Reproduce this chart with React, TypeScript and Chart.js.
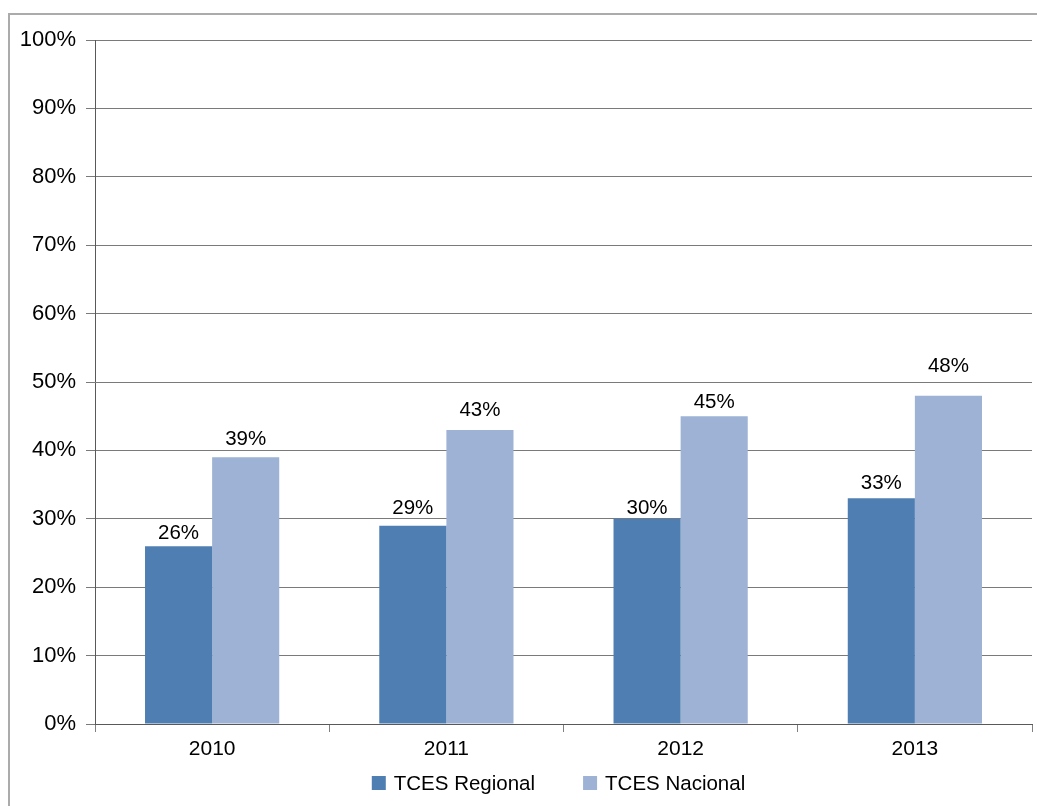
import React, { useEffect, useRef } from "react";
import { Chart, registerables } from "chart.js";

Chart.register(...registerables);

const categories = ["2010", "2011", "2012", "2013"];
const regional = [26, 29, 30, 33];
const nacional = [39, 43, 45, 48];
const seriesNames = ["TCES Regional", "TCES Nacional"];
const seriesColors = ["#4f7fb2", "#9db2d4"];
const yMin = 0;
const yMax = 100;
const yStep = 10;

// label placement (pixels between label baseline and bar top), per series
const labelGaps = [
  [7, 12, 5, 9],
  [12, 14, 8, 24],
];

const FONT = "'Liberation Sans', Arial, sans-serif";

const frame = {
  id: "frame",
  beforeDraw(chart: any) {
    const ctx = chart.ctx;
    ctx.save();
    ctx.fillStyle = "#ffffff";
    ctx.fillRect(0, 0, chart.width, chart.height);
    ctx.fillStyle = "#ababab";
    ctx.fillRect(8, 13, chart.width - 8, 2);
    ctx.fillRect(8, 13, 2, chart.height - 13);
    ctx.restore();
  },
};

const dataLabels = {
  id: "dataLabels",
  afterDatasetsDraw(chart: any) {
    const ctx = chart.ctx;
    ctx.save();
    ctx.font = `20.5px ${FONT}`;
    ctx.fillStyle = "#000000";
    ctx.textAlign = "center";
    ctx.textBaseline = "alphabetic";
    chart.data.datasets.forEach((ds: any, i: number) => {
      const meta = chart.getDatasetMeta(i);
      meta.data.forEach((el: any, j: number) => {
        const gap = (labelGaps[i] && labelGaps[i][j]) ?? 10;
        ctx.fillText(`${ds.data[j]}%`, el.x, el.y - gap);
      });
    });
    ctx.restore();
  },
};

const customLegend = {
  id: "customLegend",
  afterDraw(chart: any) {
    const ctx = chart.ctx;
    const area = chart.chartArea;
    ctx.save();
    ctx.font = `20.5px ${FONT}`;
    const box = 14;
    const gapText = 8;
    const gapItem = 48;
    const widths = chart.data.datasets.map((ds: any) => ctx.measureText(ds.label).width);
    let total = 0;
    widths.forEach((w: number, i: number) => {
      total += box + gapText + w + (i < widths.length - 1 ? gapItem : 0);
    });
    let x = (area.left + area.right) / 2 - 5 - total / 2;
    const cy = area.bottom + 59;
    chart.data.datasets.forEach((ds: any, i: number) => {
      ctx.fillStyle = ds.backgroundColor;
      ctx.fillRect(x, cy - box / 2, box, box);
      ctx.fillStyle = "#000000";
      ctx.textAlign = "left";
      ctx.textBaseline = "middle";
      ctx.fillText(ds.label, x + box + gapText, cy + 1);
      x += box + gapText + widths[i] + gapItem;
    });
    ctx.restore();
  },
};

export default function App() {
  const ref = useRef<HTMLCanvasElement | null>(null);

  useEffect(() => {
    if (!ref.current) return;
    const chart = new Chart(ref.current, {
      type: "bar",
      data: {
        labels: categories,
        datasets: [
          {
            label: seriesNames[0],
            data: regional,
            backgroundColor: seriesColors[0],
            categoryPercentage: 0.573,
            barPercentage: 1,
          },
          {
            label: seriesNames[1],
            data: nacional,
            backgroundColor: seriesColors[1],
            categoryPercentage: 0.573,
            barPercentage: 1,
          },
        ],
      },
      options: {
        animation: false,
        responsive: false,
        devicePixelRatio: 1,
        layout: { padding: { left: 0, top: 40, right: 5, bottom: 42 } },
        plugins: {
          legend: { display: false },
          tooltip: { enabled: false },
        },
        scales: {
          x: {
            afterFit: (s: any) => {
              s.height = 40;
            },
            grid: {
              offset: true,
              drawOnChartArea: false,
              drawTicks: true,
              tickLength: 8,
              color: "#808080",
            },
            border: { display: true, color: "#595959" },
            ticks: {
              color: "#000000",
              padding: 5,
              font: { family: FONT, size: 21 },
            },
          },
          y: {
            min: yMin,
            max: yMax,
            afterFit: (s: any) => {
              s.width = 95;
            },
            grid: {
              color: "#7a7a7a",
              tickLength: 9,
              tickColor: "#7a7a7a",
            },
            border: { display: true, color: "#595959" },
            ticks: {
              stepSize: yStep,
              padding: 10,
              color: "#000000",
              font: { family: FONT, size: 22 },
              callback: (v: any) => `${v}%`,
            },
          },
        },
      },
      plugins: [frame, dataLabels, customLegend],
    });
    return () => chart.destroy();
  }, []);

  return (
    <div style={{ position: "absolute", left: 0, top: 0, width: 1037, height: 806 }}>
      <canvas ref={ref} width={1037} height={806} style={{ display: "block" }} />
    </div>
  );
}
